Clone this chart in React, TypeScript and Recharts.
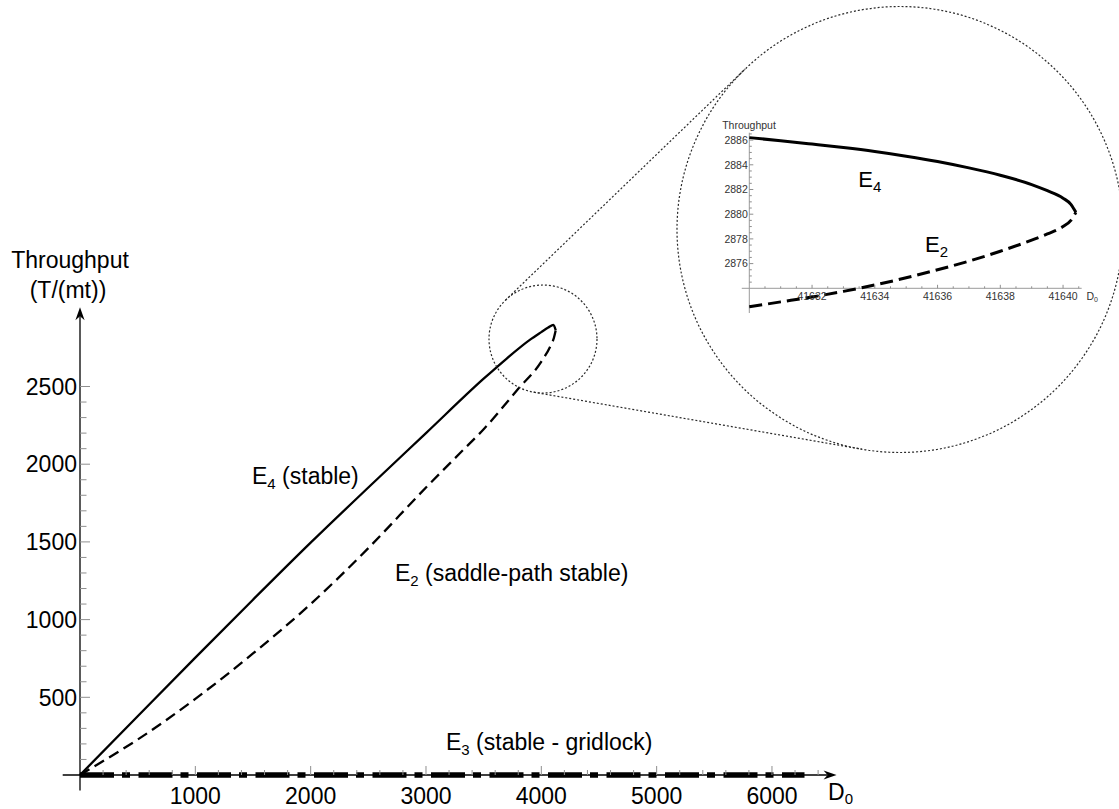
import React from 'react';
import { LineChart, Line, XAxis, YAxis, ReferenceLine, ReferenceDot } from 'recharts';

const FONT = '"Liberation Sans", Arial, Helvetica, sans-serif';

// ---------------- main chart data ----------------
const e4X = [0, 500, 1000, 1500, 2000, 2500, 3000, 3500, 3700, 3900, 4000, 4060, 4105, 4125];
const e4Y = [0, 378, 755, 1128, 1495, 1850, 2200, 2550, 2680, 2800, 2850, 2879, 2897, 2862];

const e2X = [0, 250, 500, 1000, 1500, 2000, 2500, 3000, 3300, 3500, 3800, 4000, 4080, 4110, 4125];
const e2Y = [0, 112, 228, 490, 782, 1100, 1460, 1850, 2075, 2225, 2485, 2660, 2762, 2815, 2862];

const e3X = [0, 6282];
const e3Y = [0, 0];

const mainXTicks = [200, 400, 600, 800, 1000, 1200, 1400, 1600, 1800, 2000, 2200, 2400, 2600, 2800, 3000, 3200,
  3400, 3600, 3800, 4000, 4200, 4400, 4600, 4800, 5000, 5200, 5400, 5600, 5800, 6000, 6200, 6400];
const mainXLabels = [1000, 2000, 3000, 4000, 5000, 6000];
const mainYTicks = [100, 200, 300, 400, 500, 600, 700, 800, 900, 1000, 1100, 1200, 1300, 1400, 1500, 1600,
  1700, 1800, 1900, 2000, 2100, 2200, 2300, 2400, 2500];
const mainYLabels = [500, 1000, 1500, 2000, 2500];

// ---------------- inset (zoom) data ----------------
const e4InsetX = [41630, 41631, 41632, 41633, 41634, 41635, 41636, 41637, 41638, 41639, 41639.5, 41640, 41640.25, 41640.41];
const e4InsetY = [2886.2, 2885.95, 2885.68, 2885.4, 2885.08, 2884.7, 2884.27, 2883.75, 2883.15, 2882.4, 2881.9, 2881.3, 2880.8, 2880.15];
const e2InsetX = [41630, 41631, 41632, 41633, 41634, 41635, 41636, 41637, 41638, 41639, 41639.5, 41640, 41640.25, 41640.41];
const e2InsetY = [2872.5, 2872.9, 2873.3, 2873.75, 2874.27, 2874.85, 2875.5, 2876.2, 2877.0, 2877.9, 2878.4, 2879.0, 2879.5, 2880.15];

const insetXTicks = [41630.5, 41631, 41631.5, 41632, 41632.5, 41633, 41633.5, 41634, 41634.5, 41635, 41635.5,
  41636, 41636.5, 41637, 41637.5, 41638, 41638.5, 41639, 41639.5, 41640, 41640.5];
const insetXLabels = [41632, 41634, 41636, 41638, 41640];
const insetYTicks = [2874.5, 2875, 2875.5, 2876, 2876.5, 2877, 2877.5, 2878, 2878.5, 2879, 2879.5, 2880, 2880.5,
  2881, 2881.5, 2882, 2882.5, 2883, 2883.5, 2884, 2884.5, 2885, 2885.5, 2886, 2886.5];
const insetYLabels = [2876, 2878, 2880, 2882, 2884, 2886];

const zip = (xs: number[], ys: number[]) => xs.map((x, i) => ({ x, y: ys[i] }));
const e4Data = zip(e4X, e4Y);
const e2Data = zip(e2X, e2Y);
const e3Data = zip(e3X, e3Y);
const e4InsetData = zip(e4InsetX, e4InsetY);
const e2InsetData = zip(e2InsetX, e2InsetY);

// ---------------- layout ----------------
const W = 1119;
const H = 809;
const M_LEFT = 80;
const M_BOTTOM = 775;
const M_XD: [number, number] = [0, 6560];
const M_YD: [number, number] = [0, 3010];
const M_PX_X = 0.11533;
const M_PX_Y = 0.1554;
const M_RIGHT = M_LEFT + (M_XD[1] - M_XD[0]) * M_PX_X;
const M_TOP = M_BOTTOM - (M_YD[1] - M_YD[0]) * M_PX_Y;
const M_YAXIS_W = 70;
const M_XAXIS_H = 30;

const mx = (px: number) => M_XD[0] + (px - M_LEFT) / M_PX_X;
const my = (py: number) => M_YD[0] + (M_BOTTOM - py) / M_PX_Y;

const smallCircle = { cx: 543, cy: 339, r: 54 };
const bigCircle = { cx: 900, cy: 229.5, r: 223 };

function tangentSegments(c1: any, c2: any) {
  const dx = c2.cx - c1.cx;
  const dy = c2.cy - c1.cy;
  const d = Math.hypot(dx, dy);
  const ux = dx / d;
  const uy = dy / d;
  const k = (c2.r - c1.r) / d;
  const h = Math.sqrt(1 - k * k);
  return [1, -1].map((s) => {
    const nx = -k * ux + s * h * -uy;
    const ny = -k * uy + s * h * ux;
    return [
      { x: mx(c1.cx + c1.r * nx), y: my(c1.cy + c1.r * ny) },
      { x: mx(c2.cx + c2.r * nx), y: my(c2.cy + c2.r * ny) },
    ];
  });
}
const tangents = tangentSegments(smallCircle, bigCircle);

// inset layout (local coordinates of the inset svg)
const I_LEFT = 640;
const I_TOP = 0;
const I_W = 479;
const I_H = 460;
const I_PLOT_LEFT = 109.3;
const I_PLOT_BOTTOM = 313;
const I_XD: [number, number] = [41630, 41640.594];
const I_YD: [number, number] = [2872, 2886.6];
const I_PX_X = 31.375;
const I_PX_Y = 12.35;
const I_PLOT_RIGHT = I_PLOT_LEFT + (I_XD[1] - I_XD[0]) * I_PX_X;
const I_PLOT_TOP = I_PLOT_BOTTOM - (I_YD[1] - I_YD[0]) * I_PX_Y;
const I_YAXIS_W = 30;
const I_XAXIS_H = 20;
const I_AXIS_Y = 2874;
const I_AXIS_OFFSET = (I_AXIS_Y - I_YD[0]) * I_PX_Y;

const TICK_GRAY = '#8f8f8f';
const DOT_STROKE = '#2a2a2a';

// ---------------- shapes ----------------
const ArrowAxis = (props: any) => {
  const { x1, y1, x2, y2 } = props;
  const dx = x2 - x1;
  const dy = y2 - y1;
  const len = Math.hypot(dx, dy) || 1;
  const ux = dx / len;
  const uy = dy / len;
  const L = 13;
  const Wd = 4.6;
  const N = 9;
  const bx = x2 - ux * L;
  const by = y2 - uy * L;
  const nx = x2 - ux * N;
  const ny = y2 - uy * N;
  const pts = `${x2},${y2} ${bx - uy * Wd},${by + ux * Wd} ${nx},${ny} ${bx + uy * Wd},${by - ux * Wd}`;
  return (
    <g>
      <line x1={x1} y1={y1} x2={nx} y2={ny} stroke="#000" strokeWidth={1.3} />
      <polygon points={pts} fill="#000" />
    </g>
  );
};

const PlainAxis = (props: any) => {
  const { x1, y1, x2, y2 } = props;
  return <line x1={x1} y1={y1} x2={x2} y2={y2} stroke="#9a9a9a" strokeWidth={1} />;
};

const MainXTick = (props: any) => {
  const { x, y, payload } = props;
  const v = payload.value;
  const major = mainXLabels.includes(v);
  return (
    <g>
      <line x1={x} x2={x} y1={y} y2={y - (major ? 9 : 5)} stroke={TICK_GRAY} strokeWidth={1} />
      {major && (
        <text x={x} y={y + 29} textAnchor="middle" fontSize={23} fontFamily={FONT} fill="#000">
          {v}
        </text>
      )}
    </g>
  );
};

const MainYTick = (props: any) => {
  const { x, y, payload } = props;
  const v = payload.value;
  const major = mainYLabels.includes(v);
  return (
    <g>
      <line x1={x} x2={x + (major ? 10 : 6.5)} y1={y} y2={y} stroke={TICK_GRAY} strokeWidth={1} />
      {major && (
        <text x={x - 3} y={y + 8.2} textAnchor="end" fontSize={23} fontFamily={FONT} fill="#000">
          {v}
        </text>
      )}
    </g>
  );
};

const InsetXTick = (props: any) => {
  const { x, y, payload } = props;
  const v = payload.value;
  const major = insetXLabels.includes(v);
  const ay = y - I_AXIS_OFFSET;
  return (
    <g>
      <line x1={x} x2={x} y1={ay} y2={ay - (major ? 3.5 : 2)} stroke={TICK_GRAY} strokeWidth={1} />
      {major && (
        <text x={x} y={ay + 12} textAnchor="middle" fontSize={10.5} fontFamily={FONT} fill="#333">
          {v}
        </text>
      )}
    </g>
  );
};

const InsetYTick = (props: any) => {
  const { x, y, payload } = props;
  const v = payload.value;
  const major = insetYLabels.includes(v);
  return (
    <g>
      <line x1={x} x2={x + (major ? 4 : 2.5)} y1={y} y2={y} stroke={TICK_GRAY} strokeWidth={1} />
      {major && (
        <text x={x - 1.5} y={y + 3.7} textAnchor="end" fontSize={10.5} fontFamily={FONT} fill="#333">
          {v}
        </text>
      )}
    </g>
  );
};

const SubLabel = ({ x, y, main, sub, rest, size, subSize, shift }: any) => (
  <text x={x} y={y} fontSize={size} fontFamily={FONT} fill="#000">
    <tspan>{main}</tspan>
    <tspan fontSize={subSize} dy={shift}>{sub}</tspan>
    {rest ? <tspan dy={-shift}>{rest}</tspan> : null}
  </text>
);

export default function App() {
  return (
    <div style={{ position: 'absolute', left: 0, top: 0, width: W, height: H, background: '#fff' }}>
      <div style={{ position: 'absolute', left: 0, top: 0 }}>
        <LineChart
          width={W}
          height={H}
          margin={{ top: M_TOP, right: W - M_RIGHT, bottom: H - M_BOTTOM - M_XAXIS_H, left: M_LEFT - M_YAXIS_W }}
        >
          <XAxis
            type="number"
            dataKey="x"
            domain={M_XD}
            ticks={mainXTicks}
            interval={0}
            tickSize={0}
            tickMargin={0}
            axisLine={false}
            tickLine={false}
            height={M_XAXIS_H}
            tick={(p: any) => <MainXTick {...p} />}
          />
          <YAxis
            type="number"
            dataKey="y"
            domain={M_YD}
            ticks={mainYTicks}
            interval={0}
            tickSize={0}
            tickMargin={0}
            axisLine={false}
            tickLine={false}
            width={M_YAXIS_W}
            tick={(p: any) => <MainYTick {...p} />}
          />
          <ReferenceLine
            segment={[{ x: -150, y: 0 }, { x: M_XD[1], y: 0 }]}
            ifOverflow="visible"
            shape={(p: any) => <ArrowAxis {...p} />}
          />
          <ReferenceLine
            segment={[{ x: 0, y: -100 }, { x: 0, y: M_YD[1] }]}
            ifOverflow="visible"
            shape={(p: any) => <ArrowAxis {...p} />}
          />
          <Line
            data={e3Data}
            dataKey="y"
            type="linear"
            stroke="#000"
            strokeWidth={5.5}
            strokeDasharray="34 8 8 8.5"
            dot={false}
            activeDot={false}
            isAnimationActive={false}
          />
          <Line
            data={e2Data}
            dataKey="y"
            type="monotone"
            stroke="#000"
            strokeWidth={2.3}
            strokeDasharray="11 6"
            dot={false}
            activeDot={false}
            isAnimationActive={false}
          />
          <Line
            data={e4Data}
            dataKey="y"
            type="monotone"
            stroke="#000"
            strokeWidth={2.3}
            dot={false}
            activeDot={false}
            isAnimationActive={false}
          />
          <ReferenceDot
            x={mx(smallCircle.cx)}
            y={my(smallCircle.cy)}
            r={smallCircle.r}
            fill="none"
            stroke={DOT_STROKE}
            strokeWidth={1.2}
            strokeDasharray="2 2"
            ifOverflow="visible"
          />
          <ReferenceDot
            x={mx(bigCircle.cx)}
            y={my(bigCircle.cy)}
            r={bigCircle.r}
            fill="none"
            stroke={DOT_STROKE}
            strokeWidth={1.2}
            strokeDasharray="2 2"
            ifOverflow="visible"
          />
          {tangents.map((seg, i) => (
            <ReferenceLine
              key={i}
              segment={seg}
              ifOverflow="visible"
              stroke={DOT_STROKE}
              strokeWidth={1.2}
              strokeDasharray="2 2"
            />
          ))}
          <text x={70} y={268} textAnchor="middle" fontSize={23} fontFamily={FONT} fill="#000">
            Throughput
          </text>
          <text x={68} y={298} textAnchor="middle" fontSize={23} fontFamily={FONT} fill="#000">
            (T/(mt))
          </text>
          <SubLabel x={252} y={484} main="E" sub="4" rest=" (stable)" size={23} subSize={15} shift={5} />
          <SubLabel x={395} y={581} main="E" sub="2" rest=" (saddle-path stable)" size={23} subSize={15} shift={5} />
          <SubLabel x={446} y={749.5} main="E" sub="3" rest=" (stable - gridlock)" size={23} subSize={15} shift={5} />
          <SubLabel x={828} y={800} main="D" sub="0" size={23} subSize={15} shift={4} />
        </LineChart>
      </div>

      <div style={{ position: 'absolute', left: I_LEFT, top: I_TOP }}>
        <LineChart
          width={I_W}
          height={I_H}
          margin={{
            top: I_PLOT_TOP,
            right: I_W - I_PLOT_RIGHT,
            bottom: I_H - I_PLOT_BOTTOM - I_XAXIS_H,
            left: I_PLOT_LEFT - I_YAXIS_W,
          }}
        >
          <XAxis
            type="number"
            dataKey="x"
            domain={I_XD}
            ticks={insetXTicks}
            interval={0}
            tickSize={0}
            tickMargin={0}
            axisLine={false}
            tickLine={false}
            height={I_XAXIS_H}
            tick={(p: any) => <InsetXTick {...p} />}
          />
          <YAxis
            type="number"
            dataKey="y"
            domain={I_YD}
            ticks={insetYTicks}
            interval={0}
            tickSize={0}
            tickMargin={0}
            axisLine={false}
            tickLine={false}
            width={I_YAXIS_W}
            tick={(p: any) => <InsetYTick {...p} />}
          />
          <ReferenceLine
            segment={[{ x: 41629.76, y: I_AXIS_Y }, { x: I_XD[1], y: I_AXIS_Y }]}
            ifOverflow="visible"
            shape={(p: any) => <PlainAxis {...p} />}
          />
          <ReferenceLine
            segment={[{ x: I_XD[0], y: I_YD[0] }, { x: I_XD[0], y: I_YD[1] }]}
            ifOverflow="visible"
            shape={(p: any) => <PlainAxis {...p} />}
          />
          <Line
            data={e2InsetData}
            dataKey="y"
            type="monotone"
            stroke="#000"
            strokeWidth={3}
            strokeDasharray="13 6"
            dot={false}
            activeDot={false}
            isAnimationActive={false}
          />
          <Line
            data={e4InsetData}
            dataKey="y"
            type="monotone"
            stroke="#000"
            strokeWidth={3}
            dot={false}
            activeDot={false}
            isAnimationActive={false}
          />
          <text x={109} y={128.5} textAnchor="middle" fontSize={10.5} fontFamily={FONT} fill="#333">
            Throughput
          </text>
          <text x={446.5} y={299.5} fontSize={10.5} fontFamily={FONT} fill="#333">
            <tspan>D</tspan>
            <tspan fontSize={7} dy={2}>0</tspan>
          </text>
          <SubLabel x={218.3} y={187} main="E" sub="4" size={22} subSize={15} shift={5} />
          <SubLabel x={285} y={251.7} main="E" sub="2" size={22} subSize={15} shift={5} />
        </LineChart>
      </div>
    </div>
  );
}
